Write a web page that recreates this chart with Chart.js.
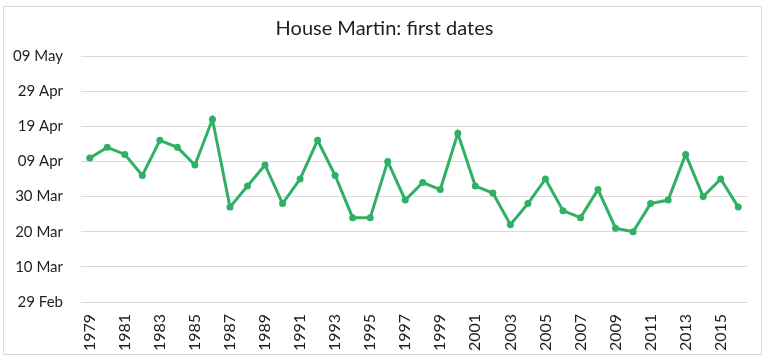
<!DOCTYPE html>
<html>
<head>
<meta charset="utf-8">
<script src="https://cdn.jsdelivr.net/npm/chart.js@4/dist/chart.umd.min.js"></script>
<style>
html,body{margin:0;padding:0;background:#fff;}
#wrap{position:absolute;left:0;top:0;width:772px;height:364px;}
</style>
</head>
<body>
<div id="wrap"><canvas id="c" width="772" height="364"></canvas></div>
<script>
// Years (categories)
const years = [1979,1980,1981,1982,1983,1984,1985,1986,1987,1988,1989,1990,1991,1992,1993,1994,1995,1996,1997,1998,1999,2000,2001,2002,2003,2004,2005,2006,2007,2008,2009,2010,2011,2012,2013,2014,2015,2016];
// First date, as days after 29 Feb
const firstDays = [41,44,42,36,46,44,39,52,27,33,39,28,35,46,36,24,24,40,29,34,32,48,33,31,22,28,35,26,24,32,21,20,28,29,42,30,35,27];
// Y tick labels (every 10 days from 29 Feb)
const yTickLabels = ['29 Feb','10 Mar','20 Mar','30 Mar','09 Apr','19 Apr','29 Apr','09 May'];
const titleText = 'House Martin: first dates';

const FONT = 'Lato, "Open Sans", sans-serif';

const frame = {
  id: 'frame',
  beforeDraw(chart) {
    const ctx = chart.ctx;
    ctx.save();
    ctx.fillStyle = '#fff';
    ctx.fillRect(0,0,chart.width,chart.height);
    ctx.strokeStyle = '#d9d9d9';
    ctx.lineWidth = 1;
    ctx.strokeRect(3.5,6.5,758,348);
    ctx.restore();
  },
  afterDraw(chart) {
    const ctx = chart.ctx;
    ctx.save();
    ctx.fillStyle = '#1f1f1f';
    ctx.font = '20px ' + FONT;
    ctx.textAlign = 'center';
    ctx.textBaseline = 'alphabetic';
    ctx.fillText(titleText, 384.5, 35);
    ctx.restore();
  }
};

new Chart(document.getElementById('c'), {
  type: 'line',
  data: {
    labels: years.map(String),
    datasets: [{
      data: firstDays,
      borderColor: '#2fb064',
      backgroundColor: '#2fb064',
      borderWidth: 3,
      pointRadius: 3.5,
      pointHoverRadius: 3.5,
      pointBorderWidth: 0,
      tension: 0,
      fill: false
    }]
  },
  options: {
    responsive: false,
    animation: false,
    devicePixelRatio: 1,
    layout: { padding: { left: 0, right: 25, top: 56, bottom: 0 } },
    plugins: { legend: { display: false }, title: { display: false }, tooltip: { enabled: false } },
    scales: {
      x: {
        offset: true,
        grid: { display: false, drawTicks: false },
        border: { display: false },
        ticks: {
          autoSkip: false,
          maxRotation: 90,
          minRotation: 90,
          padding: 12,
          color: '#1f1f1f',
          font: { family: FONT, size: 16 },
          callback: function(v, i) { return i % 2 === 0 ? years[i] : ''; }
        },
        afterFit: function(s) { s.height = 62; }
      },
      y: {
        min: 0,
        max: 70,
        grid: { color: '#d9d9d9', lineWidth: 1, drawTicks: false },
        border: { display: false },
        ticks: {
          stepSize: 10,
          padding: 18,
          color: '#1f1f1f',
          font: { family: FONT, size: 15 },
          callback: function(v) { return yTickLabels[Math.round(v/10)]; }
        },
        afterFit: function(s) { s.width = 81; }
      }
    }
  },
  plugins: [frame]
});
</script>
</body>
</html>
